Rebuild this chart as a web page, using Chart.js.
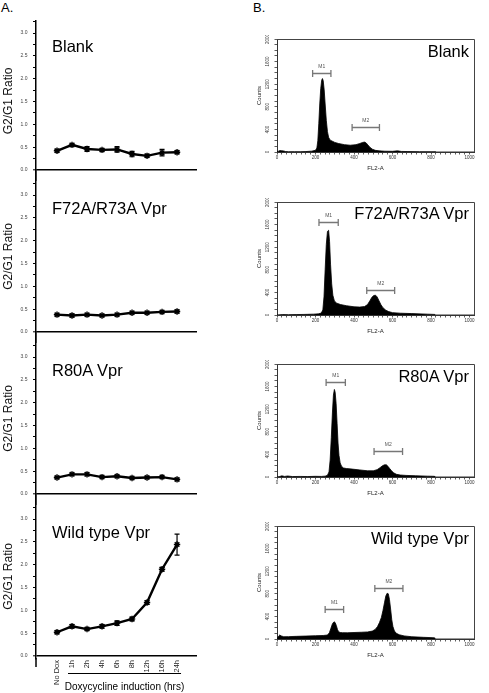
<!DOCTYPE html>
<html><head><meta charset="utf-8">
<script src="https://cdn.jsdelivr.net/npm/chart.js@4"></script>
<style>
body{margin:0;width:489px;height:693px;background:#fff;position:relative;overflow:hidden;font-family:"Liberation Sans",Arial,sans-serif;}
canvas{position:absolute;}
.lbl{position:absolute;white-space:nowrap;line-height:1;color:#000;}
</style></head><body>
<script>
// ---------- data ----------
const panelNames = ['Blank', 'F72A/R73A Vpr', 'R80A Vpr', 'Wild type Vpr'];
const timeLabels = ['No Dox', '1h', '2h', '4h', '6h', '8h', '12h', '16h', '24h'];
const ratioBlank = [0.42, 0.55, 0.46, 0.44, 0.45, 0.35, 0.31, 0.38, 0.39];
const errBlank   = [0.03, 0.03, 0.05, 0.03, 0.06, 0.06, 0.03, 0.07, 0.03];
const ratioF72A  = [0.38, 0.36, 0.38, 0.36, 0.38, 0.42, 0.42, 0.44, 0.45];
const errF72A    = [0.02, 0.03, 0.02, 0.02, 0.02, 0.02, 0.02, 0.02, 0.03];
const ratioR80A  = [0.36, 0.43, 0.43, 0.37, 0.39, 0.35, 0.36, 0.37, 0.32];
const errR80A    = [0.02, 0.02, 0.03, 0.02, 0.02, 0.02, 0.02, 0.02, 0.02];
const ratioWT    = [0.52, 0.65, 0.59, 0.65, 0.72, 0.81, 1.17, 1.90, 2.44];
const errWT      = [0.03, 0.04, 0.03, 0.04, 0.05, 0.04, 0.04, 0.04, 0.23];
const ratioTickStep = 0.25;

// FACS histograms (FL2-A channel, counts)
const fl2Blank = [0,8,15,25,35,45,60,90,120,150,180,200,207,212,217,222,227,232,236,240,245,250,256,262,268,276,288,300,320,350,380,410,430,445,455,463,472,482,495,510,530,560,600,625,635,645,680,740,800,822,823,1023];
const cntBlank = [0,15,25,22,18,8,5,6,5,8,15,30,70,200,500,850,1120,1270,1300,1260,1100,850,560,360,260,210,190,170,150,130,120,130,150,170,175,160,125,85,50,30,20,14,12,20,16,10,8,6,5,5,0,0];
const fl2F72A = [0,30,60,100,140,160,190,215,230,238,244,250,256,262,268,273,278,284,290,298,310,330,360,400,430,455,470,482,492,502,512,520,530,540,550,565,580,600,640,700,780,820,821,1023];
const cntF72A = [0,8,6,8,10,12,15,20,35,90,320,800,1250,1480,1500,1300,900,550,350,250,210,185,165,145,140,150,185,250,310,345,350,320,250,180,130,85,60,42,32,25,15,10,0,0];
const fl2R80A = [0,15,25,40,55,80,120,160,200,230,250,262,270,276,282,288,293,298,302,307,312,317,322,328,335,345,360,390,430,470,500,520,535,548,558,568,576,585,595,605,620,640,670,720,780,818,819,1023];
const cntR80A = [0,10,20,10,18,8,10,8,12,10,15,30,90,300,700,1150,1450,1550,1500,1300,950,600,380,250,190,160,150,140,125,110,110,130,165,200,215,215,190,150,110,75,48,35,28,22,15,12,0,0];
const fl2WT = [0,8,14,22,35,60,100,150,200,240,262,272,280,288,296,302,308,314,320,328,340,365,400,440,470,495,510,522,532,542,550,558,565,572,578,584,590,596,602,610,620,635,660,700,760,810,818,819,1023];
const cntWT = [0,50,70,55,40,42,47,52,58,62,70,110,190,270,305,290,240,170,130,115,112,110,115,120,125,140,170,220,290,380,500,640,760,810,800,700,530,340,220,140,100,75,55,40,30,23,20,0,0];
// gate markers: [start, end, level]
const m1Blank = [185, 280, 1390], m2Blank = [390, 532, 435];
const m1F72A  = [218, 318, 1640], m2F72A  = [466, 611, 450];
const m1R80A  = [255, 355, 1690], m2R80A  = [504, 652, 455];
const m1WT    = [250, 346, 535],  m2WT    = [508, 654, 900];
const countTicksMajor = 400;
const fl2TicksMajor = 200;

// ---------- rendering ----------
const FONT = '"Liberation Sans", Arial, sans-serif';
Chart.defaults.font.family = FONT;

const leftSeries = [
  {vals: ratioBlank, errs: errBlank},
  {vals: ratioF72A, errs: errF72A},
  {vals: ratioR80A, errs: errR80A},
  {vals: ratioWT, errs: errWT}
];
const rightSeries = [
  {x: fl2Blank, y: cntBlank, m1: m1Blank, m2: m2Blank},
  {x: fl2F72A, y: cntF72A, m1: m1F72A, m2: m2F72A},
  {x: fl2R80A, y: cntR80A, m1: m1R80A, m2: m2R80A},
  {x: fl2WT, y: cntWT, m1: m1WT, m2: m2WT}
];

function addCanvas(left, top, w, h) {
  const c = document.createElement('canvas');
  c.width = w; c.height = h;
  c.style.left = left + 'px'; c.style.top = top + 'px';
  c.style.width = w + 'px'; c.style.height = h + 'px';
  document.body.appendChild(c);
  return c;
}
function addLabel(text, style) {
  const d = document.createElement('div');
  d.className = 'lbl';
  d.textContent = text;
  Object.assign(d.style, style);
  document.body.appendChild(d);
}

const errorBarPlugin = {
  id: 'errbars',
  afterDatasetsDraw(chart) {
    const errs = chart.options.plugins.errbars.errs;
    const vals = chart.options.plugins.errbars.vals;
    const xs = chart.scales.x, ys = chart.scales.y, ctx = chart.ctx;
    ctx.save();
    ctx.strokeStyle = '#000'; ctx.lineWidth = 1.2;
    vals.forEach((v, i) => {
      const x = xs.getPixelForValue(i);
      const y1 = ys.getPixelForValue(v + errs[i]);
      const y2 = ys.getPixelForValue(v - errs[i]);
      ctx.beginPath();
      ctx.moveTo(x, y1); ctx.lineTo(x, y2);
      ctx.moveTo(x - 2.5, y1); ctx.lineTo(x + 2.5, y1);
      ctx.moveTo(x - 2.5, y2); ctx.lineTo(x + 2.5, y2);
      ctx.stroke();
    });
    ctx.restore();
  }
};

// Left panels
const LEFT_BASE = [170, 332, 494, 656];
const PX_PER_UNIT = 137 / 3;
LEFT_BASE.forEach((base, k) => {
  const areaTop = k === 0 ? 21 : LEFT_BASE[k - 1];
  const isLast = k === LEFT_BASE.length - 1;
  const below = isLast ? 3 : 11;
  const areaBottom = base + below;
  const canvasTop = areaTop - 2;
  const h = isLast ? 693 - canvasTop : areaBottom - canvasTop;
  const xAxisH = isLast ? 693 - areaBottom : 0;
  const cv = addCanvas(0, canvasTop, 200, h);
  const s = leftSeries[k];
  const plugins = [errorBarPlugin];
  if (isLast) {
    plugins.push({
      id: 'xlabel',
      afterDraw(chart) {
        const ctx = chart.ctx, xs = chart.scales.x, a = chart.chartArea;
        const x1 = xs.getPixelForValue(1) - 4;
        const x2 = xs.getPixelForValue(timeLabels.length - 1) + 4;
        const y = 673 - canvasTop;
        ctx.save();
        ctx.strokeStyle = '#000';
        // continuation of the vertical axis below the zero line
        ctx.lineWidth = 1.5;
        ctx.beginPath(); ctx.moveTo(a.left, a.bottom - 1); ctx.lineTo(a.left, 667 - canvasTop); ctx.stroke();
        ctx.lineWidth = 1;
        ctx.beginPath(); ctx.moveTo(x1, y + 0.5); ctx.lineTo(x2, y + 0.5); ctx.stroke();
        ctx.font = '10px ' + FONT;
        ctx.textAlign = 'center'; ctx.textBaseline = 'middle'; ctx.fillStyle = '#000';
        ctx.fillText('Doxycycline induction (hrs)', (x1 + x2) / 2, y + 14);
        ctx.restore();
      }
    });
  }
  new Chart(cv, {
    type: 'line',
    data: {datasets: [{
      data: s.vals.map((v, i) => ({x: i, y: v})),
      borderColor: '#000', borderWidth: 2.4, tension: 0,
      pointStyle: 'star', pointRadius: 3.2, pointBorderWidth: 1.4,
      pointBorderColor: '#000', pointBackgroundColor: '#000'
    }]},
    options: {
      responsive: false, animation: false, devicePixelRatio: 1,
      layout: {autoPadding: false, padding: {top: 2, right: 3, bottom: 0, left: 0}},
      plugins: {legend: {display: false}, tooltip: {enabled: false}, errbars: {vals: s.vals, errs: s.errs}},
      scales: {
        x: {
          type: 'linear', min: -1.4, max: 9.33, display: isLast,
          border: {display: false},
          grid: {display: false, drawTicks: false},
          afterBuildTicks: sc => { sc.ticks = timeLabels.map((_, i) => ({value: i})); },
          ticks: {autoSkip: false, minRotation: 90, maxRotation: 90, padding: 1,
                  font: {size: 7.5}, color: '#222', callback: v => timeLabels[v]},
          afterFit: sc => { sc.height = xAxisH; sc.paddingLeft = 0; sc.paddingRight = 0; }
        },
        y: {
          min: -below / PX_PER_UNIT, max: (base - areaTop) / PX_PER_UNIT,
          border: {display: true, color: '#000', width: 1.5},
          grid: {
            color: c => (c.tick && c.tick.value === 0) ? '#000' : 'rgba(0,0,0,0)',
            lineWidth: c => (c.tick && c.tick.value === 0) ? 1.6 : 1,
            tickColor: '#000', tickWidth: 1, tickLength: 3, drawTicks: true
          },
          afterBuildTicks: sc => { sc.ticks = sc.ticks.filter(t => t.value > -1e-9 && t.value <= 3.26); },
          ticks: {stepSize: ratioTickStep, includeBounds: false, autoSkip: false, padding: 5.5,
                  color: '#444', font: {size: 5},
                  callback: v => (Math.abs(v * 2 - Math.round(v * 2)) < 1e-6 && v <= 3.0001) ? v.toFixed(1) : ''},
          title: {display: true, text: 'G2/G1 Ratio', font: {size: 12}, color: '#111', padding: {top: 1, bottom: 0}},
          afterFit: sc => { sc.width = 36; sc.paddingTop = 0; sc.paddingBottom = 0; }
        }
      }
    },
    plugins
  });
});

// Right panels
const RIGHT_BASE = [152, 315, 477, 639];
const markerPlugin = {
  id: 'gates',
  afterDatasetsDraw(chart) {
    const ctx = chart.ctx, xs = chart.scales.x, ys = chart.scales.y;
    const a = chart.chartArea;
    ctx.save();
    // frame top/right
    ctx.strokeStyle = '#444'; ctx.lineWidth = 1;
    ctx.beginPath();
    ctx.moveTo(a.left, a.top + 0.5); ctx.lineTo(a.right + 0.5, a.top + 0.5); ctx.lineTo(a.right + 0.5, a.bottom);
    ctx.stroke();
    const g = chart.options.plugins.gates;
    [['M1', g.m1], ['M2', g.m2]].forEach(([name, m]) => {
      const x1 = xs.getPixelForValue(m[0]), x2 = xs.getPixelForValue(m[1]);
      const y = Math.round(ys.getPixelForValue(m[2])) + 0.5;
      ctx.strokeStyle = '#777'; ctx.lineWidth = 1.3;
      ctx.beginPath();
      ctx.moveTo(x1, y); ctx.lineTo(x2, y);
      ctx.moveTo(x1, y - 3.5); ctx.lineTo(x1, y + 3.5);
      ctx.moveTo(x2, y - 3.5); ctx.lineTo(x2, y + 3.5);
      ctx.stroke();
      ctx.fillStyle = '#555'; ctx.font = '5px ' + FONT;
      ctx.textAlign = 'center'; ctx.textBaseline = 'middle';
      ctx.fillText(name, (x1 + x2) / 2, y - 7);
    });
    ctx.restore();
  }
};
RIGHT_BASE.forEach((base, k) => {
  const areaTop = base - 113;
  const canvasTop = areaTop - 4;
  const cv = addCanvas(240, canvasTop, 240, 4 + 113 + 24);
  const s = rightSeries[k];
  new Chart(cv, {
    type: 'line',
    data: {datasets: [{
      data: s.x.map((x, i) => ({x: x, y: s.y[i]})),
      borderColor: '#000', borderWidth: 0.8, backgroundColor: '#000',
      fill: 'origin', pointRadius: 0, tension: 0
    }]},
    options: {
      responsive: false, animation: false, devicePixelRatio: 1,
      layout: {autoPadding: false, padding: {top: 4, right: 6, bottom: 0, left: 0}},
      plugins: {legend: {display: false}, tooltip: {enabled: false}, gates: {m1: s.m1, m2: s.m2}},
      scales: {
        x: {
          type: 'linear', min: 0, max: 1023,
          border: {display: true, color: '#333', width: 1},
          grid: {drawOnChartArea: false, tickLength: 2.5, tickColor: '#333', tickWidth: 0.8},
          ticks: {stepSize: 25, includeBounds: false, autoSkip: false, minRotation: 0, maxRotation: 0,
                  padding: 1, font: {size: 4.5}, color: '#333',
                  callback: v => (v % fl2TicksMajor === 0) ? String(v) : ''},
          title: {display: true, text: 'FL2-A', font: {size: 6}, color: '#222', padding: {top: 0, bottom: 4.4}},
          afterFit: sc => { sc.height = 24; sc.paddingLeft = 0; sc.paddingRight = 0; }
        },
        y: {
          min: 0, max: 2000,
          border: {display: true, color: '#333', width: 1},
          grid: {drawOnChartArea: false, tickLength: 2.5, tickColor: '#333', tickWidth: 0.8},
          ticks: {stepSize: 100, autoSkip: false, minRotation: 90, maxRotation: 90, crossAlign: 'center',
                  padding: 1.5, font: {size: 4.5}, color: '#333',
                  callback: v => (v % countTicksMajor === 0) ? String(v) : ''},
          title: {display: true, text: 'Counts', font: {size: 6}, color: '#222', padding: {top: 15.4, bottom: 0}},
          afterFit: sc => { sc.width = 37; sc.paddingTop = 0; sc.paddingBottom = 0; }
        }
      }
    },
    plugins: [markerPlugin]
  });
});

// Text labels
addLabel('A.', {left: '1px', top: '1px', fontSize: '13px'});
addLabel('B.', {left: '253px', top: '1px', fontSize: '13px'});
const leftLabelTops = [38.3, 200, 362, 524];
const rightLabelTops = [42.7, 205.3, 367.7, 529.5];
panelNames.forEach((n, k) => {
  addLabel(n, {left: '52px', top: leftLabelTops[k] + 'px', fontSize: '16.5px'});
  addLabel(n, {right: '20px', top: rightLabelTops[k] + 'px', fontSize: '16.5px'});
});
</script>
</body></html>
